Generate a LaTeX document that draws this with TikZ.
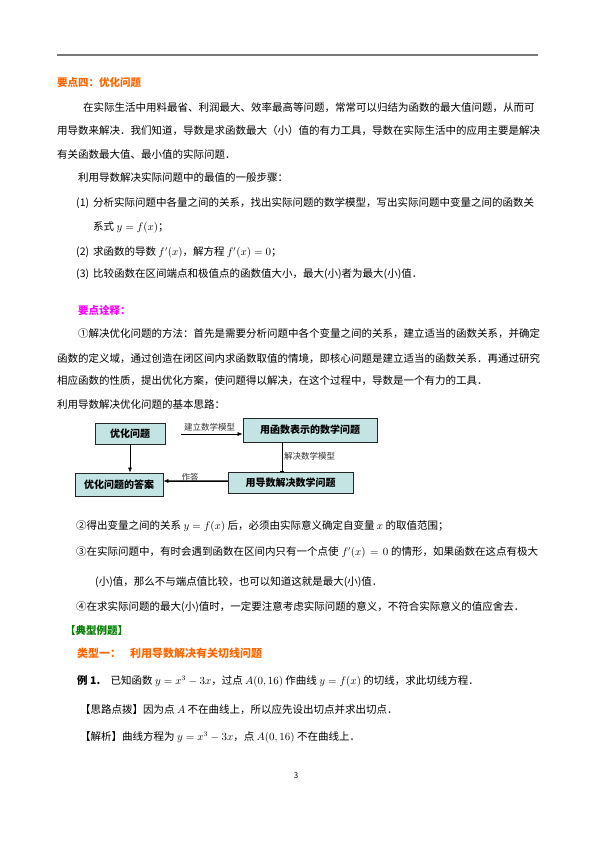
\documentclass[tikz,border=0pt]{standalone}
\usepackage{fontspec}
\setmainfont{Noto Sans CJK SC}
\usetikzlibrary{arrows.meta}
\XeTeXlinebreaklocale "zh"
\XeTeXlinebreakskip=0pt plus 3pt
\definecolor{orangeh}{RGB}{255,102,0}
\definecolor{magh}{RGB}{255,0,255}
\definecolor{greenh}{RGB}{0,128,0}
\definecolor{boxc}{RGB}{196,228,228}
\definecolor{rulec}{RGB}{120,120,120}
\newcommand\jl[2]{\hbox to #1pt{#2}}
\tikzset{
  tx/.style={anchor=base west, inner sep=0pt, font=\fontsize{10.5}{12}\selectfont},
  hd/.style={tx, font=\fontsize{10.5}{12}\selectfont\bfseries},
  fbox/.style={draw=black!85, line width=0.8pt, fill=boxc, inner sep=0pt, font=\fontsize{10}{12}\selectfont\bfseries},
  lbl/.style={inner sep=0pt, font=\fontsize{8.5}{10}\selectfont, text=black!80},
  arr/.style={line width=0.6pt, -{Latex[length=5pt,width=4pt]}}
}
\begin{document}
\begin{tikzpicture}[x=1pt,y=-1pt]
\useasboundingbox (0,0) rectangle (595,842);
\fill[white] (0,0) rectangle (595,842);
\coordinate (r1) at (57,55);
\coordinate (r2) at (538,55);
\draw[rulec, line width=1.5pt] (r1) -- (r2);

\node[hd, text=orangeh] (h1) at (57,87) {要点四：优化问题};
\node[tx] (p1) at (83,112) {\jl{455}{在实际生活中用料最省、利润最大、效率最高等问题，常常可以归结为函数的最大值问题，从而可}};
\node[tx] (p2) at (57,134.5) {\jl{481}{用导数来解决．我们知道，导数是求函数最大（小）值的有力工具，导数在实际生活中的应用主要是解决}};
\node[tx] (p3) at (57,159) {有关函数最大值、最小值的实际问题．};
\node[tx] (p4) at (78,182) {利用导数解决实际问题中的最值的一般步骤：};
\node[tx] (s1) at (76,206.5) {\jl{462}{(1)\kern4pt 分析实际问题中各量之间的关系，找出实际问题的数学模型，写出实际问题中变量之间的函数关}};
\node[tx] (s1b) at (93,230.5) {系式 $y=f(x)$；};
\node[tx] (s2) at (76,255.5) {(2)\kern4pt 求函数的导数 $f'(x)$，解方程 $f'(x)=0$；};
\node[tx] (s3) at (76,277) {(3)\kern4pt 比较函数在区间端点和极值点的函数值大小，最大(小)者为最大(小)值．};

\node[hd, text=magh] (h2) at (78,314.5) {要点诠释：};
\node[tx] (q1) at (78,337) {\jl{460}{①解决优化问题的方法：首先是需要分析问题中各个变量之间的关系，建立适当的函数关系，并确定}};
\node[tx] (q2) at (57,362) {\jl{481}{函数的定义域，通过创造在闭区间内求函数取值的情境，即核心问题是建立适当的函数关系．再通过研究}};
\node[tx] (q3) at (57,384) {相应函数的性质，提出优化方案，使问题得以解决，在这个过程中，导数是一个有力的工具．};
\node[tx] (q4) at (57,408) {利用导数解决优化问题的基本思路：};

% flowchart
\node[fbox, minimum width=70pt, minimum height=21pt] (b1) at (130,433.5) {优化问题};
\node[fbox, minimum width=134pt, minimum height=24pt] (b2) at (310,430) {用函数表示的数学问题};
\node[fbox, minimum width=125pt, minimum height=21pt] (b3) at (290.5,482.5) {用导数解决数学问题};
\node[fbox, minimum width=88pt, minimum height=23pt] (b4) at (119,484.5) {优化问题的答案};
\coordinate (t1) at (181,434);
\draw[arr] (t1) -- (b2.west |- t1);
\node[lbl] (l1) at (209.5,427) {建立数学模型};
\draw[arr] (b1.south) -- (b1.south |- b4.north);
\coordinate (v1) at (282,442);
\draw[line width=0.6pt, -{Bar[width=4pt]}] (v1) -- (v1 |- b3.north);
\node[lbl, anchor=west] (l2) at (284,456.5) {解决数学模型};
\coordinate (h3) at (228,481);
\draw[line width=1.2pt, black!65] (h3) -- (168,481);
\draw[arr] (h3) -- (b4.east |- h3);
\node[lbl] (l3) at (190,477) {作答};

\node[tx] (c2) at (76,529) {②得出变量之间的关系 $y=f(x)$ 后，必须由实际意义确定自变量 $x$ 的取值范围；};
\node[tx] (c3) at (76,555.5) {\jl{462}{③在实际问题中，有时会遇到函数在区间内只有一个点使 $f'(x)=0$ 的情形，如果函数在这点有极大}};
\node[tx] (c3b) at (95,585.5) {(小)值，那么不与端点值比较，也可以知道这就是最大(小)值．};
\node[tx] (c4) at (76,610.5) {④在求实际问题的最大(小)值时，一定要注意考虑实际问题的意义，不符合实际意义的值应舍去．};

\node[hd, text=greenh] (h3t) at (65,634) {【典型例题】};
\node[hd, text=orangeh, font=\fontsize{11}{13}\selectfont\bfseries] (h4) at (77,657) {类型一：};
\node[hd, text=orangeh, font=\fontsize{11}{13}\selectfont\bfseries] (h5) at (130,657) {利用导数解决有关切线问题};
\node[tx] (e1) at (77,684.5) {\textbf{例 1.}\quad 已知函数 $y=x^3-3x$，过点 $A(0,16)$ 作曲线 $y=f(x)$ 的切线，求此切线方程．};
\node[tx] (e2) at (80,713) {【思路点拨】因为点 $A$ 不在曲线上，所以应先设出切点并求出切点．};
\node[tx] (e3) at (80,740.5) {【解析】曲线方程为 $y=x^3-3x$，点 $A(0,16)$ 不在曲线上．};

\node[inner sep=0pt, font=\fontsize{8}{10}\selectfont] (pg) at (296,776) {3};
\end{tikzpicture}
\end{document}
